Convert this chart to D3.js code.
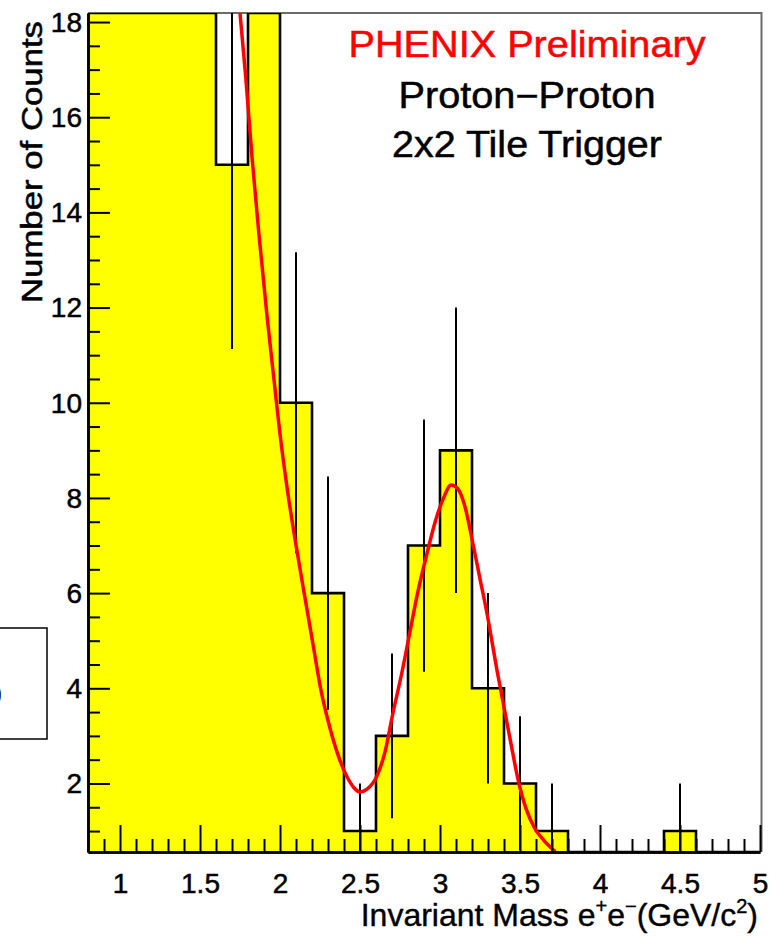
<!DOCTYPE html>
<html><head><meta charset="utf-8">
<script src="https://cdn.jsdelivr.net/npm/d3@7"></script>
<style>html,body{margin:0;padding:0;background:#fff}svg{display:block}</style>
</head><body>
<script>
// ---- data ----
const binEdges = [0.8,1.0,1.2,1.4,1.6,1.8,2.0,2.2,2.4,2.6,2.8,3.0,3.2,3.4,3.6,3.8,4.0,4.2,4.4,4.6,4.8,5.0];
const counts   = [60, 52, 44, 36, 15, 25, 10, 6, 1, 3, 7, 9, 4, 2, 1, 0, 0, 0, 1, 0, 0];
const errors   = [7.75, 7.21, 6.63, 6.0, 3.87, 5.0, 3.16, 2.45, 1.0, 1.73, 2.65, 3.0, 2.0, 1.41, 1.0, 0, 0, 0, 1.0, 0, 0];
const fitX = [1.75, 1.7875, 1.825, 1.869, 1.919, 1.9625, 2.0, 2.05, 2.1, 2.15, 2.206, 2.256, 2.3125, 2.3625, 2.419, 2.4625, 2.5,
              2.544, 2.606, 2.656, 2.706, 2.76, 2.81, 2.86, 2.92, 2.97, 3.02, 3.07, 3.11, 3.15, 3.21, 3.25, 3.29, 3.36, 3.44, 3.49, 3.54, 3.59, 3.65, 3.72];
const fitY = [18.19, 16.78, 15.16, 13.52, 11.82, 10.48, 9.34, 8.08, 7.01, 6.02, 4.93, 3.96, 3.16, 2.60, 2.14, 1.91, 1.82,
              1.88, 2.16, 2.66, 3.48, 4.3, 5.15, 6.0, 6.85, 7.5, 7.98, 8.27, 8.2, 7.89, 6.97, 6.3, 5.64, 4.31, 2.9, 2.05, 1.45, 1.07, 0.8, 0.57];
const xTicks = [1, 1.5, 2, 2.5, 3, 3.5, 4, 4.5, 5];
const xTickLabels = ["1", "1.5", "2", "2.5", "3", "3.5", "4", "4.5", "5"];
const yTicks = [2, 4, 6, 8, 10, 12, 14, 16, 18];
const yTickLabels = ["2", "4", "6", "8", "10", "12", "14", "16", "18"];
const titleLines = ["PHENIX Preliminary", "Proton\u2212Proton", "2x2 Tile Trigger"];
const titleColors = ["#ff0000", "#000000", "#000000"];
const yTitle = "Number of Counts";

// ---- layout ----
const W = 772, H = 937;
const L = 88, R = 760, T = 13, B = 852;
const FONT = "'Liberation Sans', Arial, Helvetica, sans-serif";

const svg = d3.select("body").append("svg").attr("width", W).attr("height", H);

const x = d3.scaleLinear().domain([0.8, 5.0]).range([L, R]);
const y = d3.scaleLinear().domain([0.56, 18.19]).range([B, T]);
const yc = d3.scaleLinear().domain(y.domain()).range(y.range()).clamp(true);

svg.append("defs").append("clipPath").attr("id", "frame")
  .append("rect").attr("x", L).attr("y", T).attr("width", R + 2 - L).attr("height", B - T);

// frame (grey top & right)
svg.append("path")
  .attr("d", `M${L},${T}H${R + 1.5}V${B}`)
  .attr("fill", "none").attr("stroke", "#6b6b6b").attr("stroke-width", 2);

const bins = counts.map((c, i) => ({x0: binEdges[i], x1: binEdges[i + 1], c, e: errors[i]}));

const g = svg.append("g").attr("clip-path", "url(#frame)");

// filled bars
g.selectAll("rect.bar").data(bins.filter(d => d.c > 0)).join("rect")
  .attr("class", "bar")
  .attr("x", d => x(d.x0)).attr("width", d => x(d.x1) - x(d.x0))
  .attr("y", d => yc(d.c)).attr("height", d => B - yc(d.c))
  .attr("fill", "#ffff00");

// outline
const pts = [[binEdges[0], 0.56]];
bins.forEach(d => { pts.push([d.x0, d.c]); pts.push([d.x1, d.c]); });
pts.push([binEdges[binEdges.length - 1], 0.56]);
g.append("path")
  .attr("d", d3.line().x(p => x(p[0])).y(p => yc(p[1]))(pts))
  .attr("fill", "none").attr("stroke", "#000").attr("stroke-width", 2.6)
  .attr("stroke-linejoin", "miter");

// error bars
g.selectAll("line.err").data(bins.filter(d => d.c > 0 && d.c - d.e < 18.19)).join("line")
  .attr("class", "err")
  .attr("x1", d => x((d.x0 + d.x1) / 2)).attr("x2", d => x((d.x0 + d.x1) / 2))
  .attr("y1", d => yc(d.c - d.e)).attr("y2", d => yc(d.c + d.e))
  .attr("stroke", "#000").attr("stroke-width", 2);

// fit curve
g.append("path")
  .attr("d", d3.line().x((d, i) => x(fitX[i])).y((d, i) => y(fitY[i])).curve(d3.curveMonotoneX)(fitX))
  .attr("fill", "none").attr("stroke", "#ff0000").attr("stroke-width", 3.5)
  .attr("stroke-linejoin", "round");

// axes
const xMinor = d3.range(9, 50).map(i => i / 10).filter(v => Math.abs(v * 2 - Math.round(v * 2)) > 1e-6);
const yMinor = d3.range(2, 37).map(i => i / 2).filter(v => v % 2 !== 0);

const xAxisMinor = svg.append("g").attr("transform", `translate(0,${B})`)
  .call(d3.axisBottom(x).tickValues(xMinor).tickSize(-13).tickSizeOuter(0).tickFormat(""));
const xAxis = svg.append("g").attr("transform", `translate(0,${B})`)
  .call(d3.axisBottom(x).tickValues(xTicks).tickSize(-27).tickSizeOuter(0).tickPadding(21)
    .tickFormat((d, i) => xTickLabels[i]));
const yAxisMinor = svg.append("g").attr("transform", `translate(${L},0)`)
  .call(d3.axisLeft(y).tickValues(yMinor).tickSize(-12).tickSizeOuter(0).tickFormat(""));
const yAxis = svg.append("g").attr("transform", `translate(${L},0)`)
  .call(d3.axisLeft(y).tickValues(yTicks).tickSize(-22).tickSizeOuter(0).tickPadding(6)
    .tickFormat((d, i) => yTickLabels[i]));

[xAxisMinor, xAxis, yAxisMinor, yAxis].forEach(a => {
  a.select(".domain").attr("stroke", "#000").attr("stroke-width", 2.6);
  a.selectAll(".tick line").attr("stroke", "#000").attr("stroke-width", 2);
  a.selectAll("text").attr("font-family", FONT).attr("font-size", 28).attr("fill", "#000")
    .attr("stroke", "#000").attr("stroke-width", 0.5);
});
xAxis.selectAll(".tick text").attr("dy", "0.71em");
yAxis.selectAll(".tick text").attr("dy", "0.33em");

// y title
svg.append("text")
  .attr("transform", "translate(42,162) rotate(-90)")
  .attr("text-anchor", "middle").attr("font-family", FONT).attr("font-size", 29)
  .attr("textLength", 282).attr("lengthAdjust", "spacingAndGlyphs")
  .attr("fill", "#000").attr("stroke", "#000").attr("stroke-width", 0.5)
  .text(yTitle);

// x title with superscripts
const xt = svg.append("text")
  .attr("x", 758).attr("y", 926).attr("text-anchor", "end")
  .attr("font-family", FONT).attr("font-size", 32)
  .attr("fill", "#000").attr("stroke", "#000").attr("stroke-width", 0.4);
xt.append("tspan").text("Invariant Mass e");
xt.append("tspan").attr("font-size", 20).attr("dy", -13).text("+");
xt.append("tspan").attr("dy", 13).text("e");
xt.append("tspan").attr("font-size", 20).attr("dy", -13).text("\u2212");
xt.append("tspan").attr("dy", 13).text("(GeV/c");
xt.append("tspan").attr("font-size", 20).attr("dy", -13).text("2");
xt.append("tspan").attr("dy", 13).text(")");

// title text
const titleY = [57, 108, 157];
const titleLen = [357, 257, 270];
svg.selectAll("text.title").data(titleLines).join("text")
  .attr("class", "title")
  .attr("x", 527).attr("y", (d, i) => titleY[i])
  .attr("text-anchor", "middle").attr("font-family", FONT).attr("font-size", 36)
  .attr("textLength", (d, i) => titleLen[i]).attr("lengthAdjust", "spacingAndGlyphs")
  .attr("fill", (d, i) => titleColors[i])
  .attr("stroke", (d, i) => titleColors[i]).attr("stroke-width", 0.5)
  .text(d => d);

// partial box at the left edge
svg.append("rect").attr("x", -2).attr("y", 628).attr("width", 49).attr("height", 111)
  .attr("fill", "none").attr("stroke", "#000").attr("stroke-width", 1.5);
svg.append("text").attr("x", -15).attr("y", 705).attr("font-family", FONT).attr("font-size", 30)
  .attr("fill", "#000").attr("stroke", "#000").attr("stroke-width", 0.5).text("0");
</script>
</body></html>
